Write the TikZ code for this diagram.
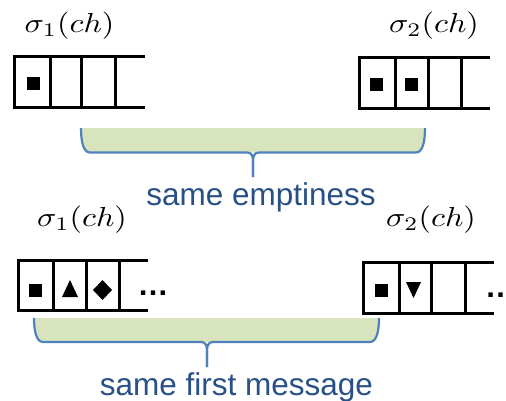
\documentclass[tikz,border=0pt]{standalone}
\usepackage{fontspec}
\newfontfamily\calloutfont{Liberation Sans}
\definecolor{bracefill}{RGB}{215,228,189}
\definecolor{braceline}{RGB}{79,129,189}
\definecolor{calltext}{RGB}{40,80,135}

% curly-brace callout: left, top, right, bottom, tip x, tip y
\newcommand\calloutbrace[6]{%
  \fill[bracefill] (#1,#2) .. controls (#1,#4-12) and (#1+2,#4) .. (#1+9,#4)
    -- (#3-9,#4) .. controls (#3-2,#4) and (#3,#4-12) .. (#3,#2) -- cycle;
  \draw[braceedge] (#1,#2) .. controls (#1,#4-12) and (#1+2,#4) .. (#1+9,#4)
    -- (#5-6,#4) .. controls (#5-1,#4) and (#5,#4+4) .. (#5,#4+9) -- (#5,#6);
  \draw[braceedge] (#5,#6) -- (#5,#4+9) .. controls (#5,#4+4) and (#5+1,#4) .. (#5+6,#4)
    -- (#3-9,#4) .. controls (#3-2,#4) and (#3,#4-12) .. (#3,#2);
}
% channel label, set at 10pt and enlarged
\newcommand\chtext[1]{\scalebox{3.2}[2.75]{$\sigma_{#1}(ch)$}}

\begin{document}
\begin{tikzpicture}[x=1pt,y=-1pt,
  queue/.style={line width=3pt},
  msg/.style={fill=black},
  braceedge/.style={draw=braceline, line width=2.2pt, line join=round},
  chlabel/.style={inner sep=0pt, anchor=base},
  calltxt/.style={inner sep=0pt, anchor=base, text=calltext,
    font=\calloutfont\fontsize{31.5}{36}\selectfont},
  dots/.style={inner sep=0pt, anchor=base,
    font=\calloutfont\bfseries\fontsize{31}{36}\selectfont}
]
\useasboundingbox (0,0) rectangle (506,400);

% ---------- upper pair: channel contents with equal emptiness ----------
\node[chlabel] (s1a) at (69.5,32) {\chtext{1}};
\draw[queue] (145,56) -- (14,56) -- (14,107) -- (145,107);
\draw[queue] (50,56) -- (50,107);
\draw[queue] (81,56) -- (81,107);
\draw[queue] (115,56) -- (115,107);
\fill[msg] (27,77) rectangle (40,90);

\node[chlabel] (s2a) at (434,32) {\chtext{2}};
\draw[queue] (490,57) -- (359,57) -- (359,108) -- (490,108);
\draw[queue] (395,57) -- (395,108);
\draw[queue] (428,57) -- (428,108);
\draw[queue] (461,57) -- (461,108);
\fill[msg] (370,78) rectangle (383,91);
\fill[msg] (405,78) rectangle (418,91);

\calloutbrace{81}{128}{425}{152.5}{253}{177}
\node[calltxt] (empt) at (261,205) {same emptiness};

% ---------- lower pair: channel contents with equal head message ----------
\node[chlabel] (s1b) at (82,226) {\chtext{1}};
\draw[queue] (148,260) -- (18,260) -- (18,310) -- (148,310);
\draw[queue] (53,260) -- (53,310);
\draw[queue] (86,260) -- (86,310);
\draw[queue] (119,260) -- (119,310);
\fill[msg] (29,284) rectangle (42,297);
\fill[msg] (62,297) -- (78,297) -- (70,280) -- cycle;
\fill[msg] (102.5,280) -- (112,290) -- (102.5,300) -- (93,290) -- cycle;
\node[dots] (more1) at (153,295) {…};

\node[chlabel] (s2b) at (431,226) {\chtext{2}};
\draw[queue] (494,262) -- (363,262) -- (363,313) -- (494,313);
\draw[queue] (399,262) -- (399,313);
\draw[queue] (431,262) -- (431,313);
\draw[queue] (465,262) -- (465,313);
\fill[msg] (375,284) rectangle (388,297);
\fill[msg] (406,282) -- (421,282) -- (413.5,298) -- cycle;
\node[dots] (more2) at (500.5,297) {…};

\calloutbrace{34}{318}{379}{342}{207}{367}
\node[calltxt] (first) at (236.5,395) {same first message};
\end{tikzpicture}
\end{document}
